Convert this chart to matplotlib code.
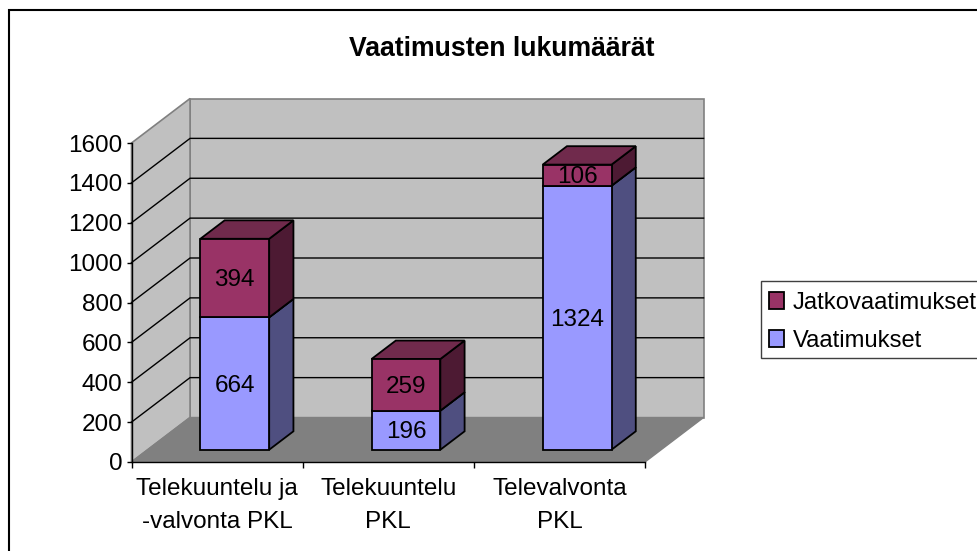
import matplotlib
matplotlib.use('agg')
import matplotlib.pyplot as plt
from matplotlib.patches import Polygon, Patch, Rectangle

plt.rcParams['font.family'] = ['Liberation Sans', 'DejaVu Sans']

categories = ["Telekuuntelu ja\n-valvonta PKL", "Telekuuntelu\nPKL", "Televalvonta\nPKL"]
vaatimukset = [664, 196, 1324]
jatkovaatimukset = [394, 259, 106]
yticks = [0, 200, 400, 600, 800, 1000, 1200, 1400, 1600]

W, H = 977, 551
size = 17.5

# colours: front, side, top
c_vaat = ("#9999FF", "#4F4F80", "#7070BB")
c_jatko = ("#993366", "#4D1A33", "#702A4C")

# depth offset of the oblique projection, in data units
DX = 58.5 / 171.0
DY = 44.5 / (319.0 / 1600.0)
bar_w = 0.402
bar_shift = 0.009
d0, d1 = 0.276, 0.69


def proj(x, v, d):
    return (x + d * DX, v + d * DY)


fig = plt.figure(figsize=(W / 100, H / 100), dpi=100)
ax = fig.add_axes([131.5 / W, 1 - 462 / H, 513.5 / W, 319 / H])
ax.set_xlim(0, 3)
ax.set_ylim(0, 1600)
ax.patch.set_visible(False)


def poly(pts, fc, ec, lw, z):
    ax.add_patch(Polygon(pts, closed=True, fc=fc, ec=ec, lw=lw, zorder=z, clip_on=False, joinstyle='miter'))


# walls and floor
poly([proj(0, 0, 1), proj(3, 0, 1), proj(3, 1600, 1), proj(0, 1600, 1)], "#C0C0C0", "#808080", 1.2, 1)
poly([proj(0, 0, 0), proj(0, 0, 1), proj(0, 1600, 1), proj(0, 1600, 0)], "#C0C0C0", "#808080", 1.2, 1)
poly([proj(0, 0, 0), proj(3, 0, 0), proj(3, 0, 1), proj(0, 0, 1)], "#808080", "#808080", 1.0, 1)

# gridlines on the walls
for v in yticks[1:-1]:
    a, b, c = proj(0, v, 0), proj(0, v, 1), proj(3, v, 1)
    ax.plot([a[0], b[0], c[0]], [a[1], b[1], c[1]], color="black", lw=1.0, zorder=2, clip_on=False, solid_joinstyle='miter')


def box(x, v0, v1, colours, z):
    l, r = x - bar_w / 2, x + bar_w / 2
    poly([proj(r, v0, d0), proj(r, v0, d1), proj(r, v1, d1), proj(r, v1, d0)], colours[1], "black", 1.3, z)
    poly([proj(l, v1, d0), proj(r, v1, d0), proj(r, v1, d1), proj(l, v1, d1)], colours[2], "black", 1.3, z)
    poly([proj(l, v0, d0), proj(r, v0, d0), proj(r, v1, d0), proj(l, v1, d0)], colours[0], "black", 1.3, z + 0.1)
    cx, cy = proj(x, (v0 + v1) / 2, d0)
    ax.annotate(str(int(v1 - v0)), (cx, cy), xytext=(0, -1.5), textcoords='offset points', ha='center', va='center',
                fontsize=size, color="black", zorder=z + 0.2, annotation_clip=False)


for i in range(len(categories)):
    x = i + 0.5 + bar_shift
    box(x, 0, vaatimukset[i], c_vaat, 3 + i)
    box(x, vaatimukset[i], vaatimukset[i] + jatkovaatimukset[i], c_jatko, 3.4 + i)

# axes
for s in ['top', 'right']:
    ax.spines[s].set_visible(False)
for s in ['left', 'bottom']:
    ax.spines[s].set_color("black")
    ax.spines[s].set_linewidth(1.0)
    ax.spines[s].set_zorder(2.5)
ax.set_yticks(yticks)
ax.set_xticks([0, 1, 2, 3])
ax.set_xticklabels([])
ax.set_xticks([0.5, 1.5, 2.5], labels=categories, minor=True)
ax.tick_params(axis='y', labelsize=size, length=3.5, width=1.0, pad=3)
ax.tick_params(axis='x', which='major', length=4, width=1.0)
ax.tick_params(axis='x', which='minor', length=0, labelsize=size, pad=11.5)
for t in ax.get_xticklabels(minor=True):
    t.set_linespacing(1.62)

fig.text(502 / W, 1 - 49 / H, "Vaatimusten lukumäärät", ha='center', va='center', fontsize=19.2, fontweight='bold')

# outer chart border, runs off the right and bottom edge
fig.add_artist(Rectangle((8.5 / W, -0.1), 1.2, 1.1 - 10 / H, fill=False, ec="black", lw=1.5, transform=fig.transFigure))

# legend frame, cut by the right edge like the chart border
fig.add_artist(Rectangle((761 / W, 1 - 357.5 / H), 0.3, 76.5 / H, fc="white", ec="#404040", lw=1.0, transform=fig.transFigure))

handles = [Patch(fc=c_jatko[0], ec="black", lw=1.3, label="Jatkovaatimukset"),
           Patch(fc=c_vaat[0], ec="black", lw=1.3, label="Vaatimukset")]
leg = fig.legend(handles=handles, loc='upper left', bbox_to_anchor=(769 / W, 1 - 292 / H), fontsize=17.1,
                 frameon=False, borderaxespad=0, borderpad=0,
                 handlelength=0.64, handleheight=0.72, handletextpad=0.36, labelspacing=0.68)

fig.savefig("out.png", dpi=100)
